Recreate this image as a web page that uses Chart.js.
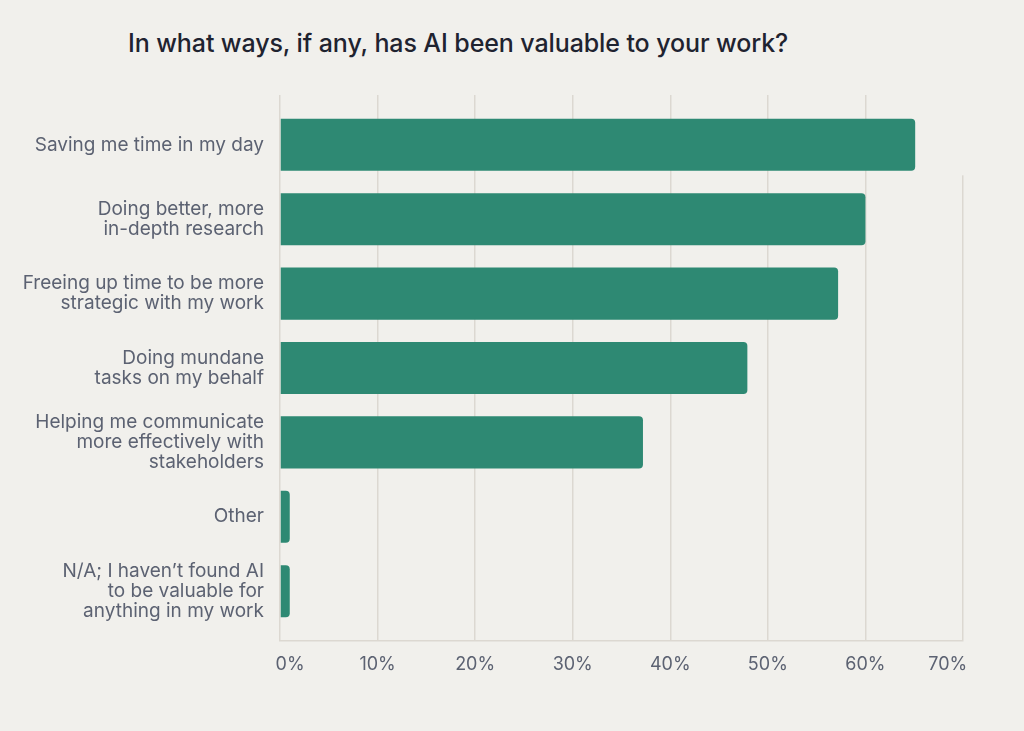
<!DOCTYPE html>
<html>
<head>
<meta charset="utf-8">
<script src="https://cdn.jsdelivr.net/npm/chart.js@4/dist/chart.umd.min.js"></script>
<style>
  html, body { margin: 0; padding: 0; background: #f1f0ec; }
  #wrap { position: relative; width: 1024px; height: 731px; background: #f1f0ec; }
  #title { position: absolute; left: 128px; top: 28px; font-family: Inter, "Noto Sans", sans-serif; font-weight: 500; font-size: 25px; color: #1f2330; letter-spacing: -0.1px; white-space: nowrap; }
  canvas { position: absolute; left: 0; top: 0; }
</style>
</head>
<body>
<div id="wrap">
  <div id="title">In what ways, if any, has AI been valuable to your work?</div>
  <canvas id="c" width="1024" height="731"></canvas>
</div>
<script>
const categories = [
  ["Saving me time in my day"],
  ["Doing better, more", "in-depth research"],
  ["Freeing up time to be more", "strategic with my work"],
  ["Doing mundane", "tasks on my behalf"],
  ["Helping me communicate", "more effectively with", "stakeholders"],
  ["Other"],
  ["N/A; I haven’t found AI", "to be valuable for", "anything in my work"]
];
const values = [65.1, 60.0, 57.2, 47.9, 37.2, 1.0, 1.0];
const xTicks = [0, 10, 20, 30, 40, 50, 60, 70];
const xTickLabels = ["    0%", "10%", "20%", "30%", "40%", "50%", "60%", "70%      "];

const labelColor = '#5c6272';
const gridColor = '#dcd8d1';
const barColor = '#2e8973';
const bgColor = '#f1f0ec';

// the 70% gridline in the reference only begins below the first bar
const trimLastGrid = {
  id: 'trimLastGrid',
  beforeDatasetsDraw(chart) {
    const x = chart.scales.x.getPixelForValue(xTicks[xTicks.length - 1]);
    const top = chart.chartArea.top;
    const y = chart.scales.y.getPixelForValue(0.41);
    const ctx = chart.ctx;
    ctx.save();
    ctx.fillStyle = bgColor;
    ctx.fillRect(x - 2, top - 1, 4, y - top + 1);
    ctx.restore();
  }
};

new Chart(document.getElementById('c'), {
  type: 'bar',
  data: {
    datasets: [{
      data: values.map((v, i) => ({ x: v, y: i })),
      backgroundColor: barColor,
      borderRadius: 4,
      barPercentage: 0.7,
      categoryPercentage: 1.0
    }]
  },
  plugins: [trimLastGrid],
  options: {
    indexAxis: 'y',
    responsive: false,
    animation: false,
    devicePixelRatio: 1,
    layout: { padding: { left: 0, right: 61, top: 95, bottom: 0 } },
    plugins: { legend: { display: false }, tooltip: { enabled: false }, title: { display: false } },
    scales: {
      x: {
        type: 'linear',
        min: 0, max: 70,
        afterBuildTicks: s => { s.ticks = xTicks.map(v => ({ value: v })); },
        afterFit: s => { s.height = 90; },
        grid: { color: gridColor, lineWidth: 1.5, drawTicks: false },
        border: { display: true, color: gridColor, width: 1.5 },
        ticks: {
          color: labelColor,
          padding: 13,
          font: { family: 'Inter, "Noto Sans", sans-serif', size: 18 },
          callback: (v) => xTickLabels[xTicks.indexOf(v)]
        }
      },
      y: {
        type: 'linear',
        reverse: true,
        offset: false,
        min: -0.67, max: 6.67,
        afterBuildTicks: s => { s.ticks = categories.map((c, i) => ({ value: i })); },
        afterFit: s => { s.width = 280; },
        grid: { display: false },
        border: { display: false },
        ticks: {
          color: labelColor,
          padding: 8,
          font: { family: 'Inter, "Noto Sans", sans-serif', size: 19, lineHeight: 1.06 },
          callback: v => categories[v]
        }
      }
    }
  }
});
</script>
</body>
</html>
